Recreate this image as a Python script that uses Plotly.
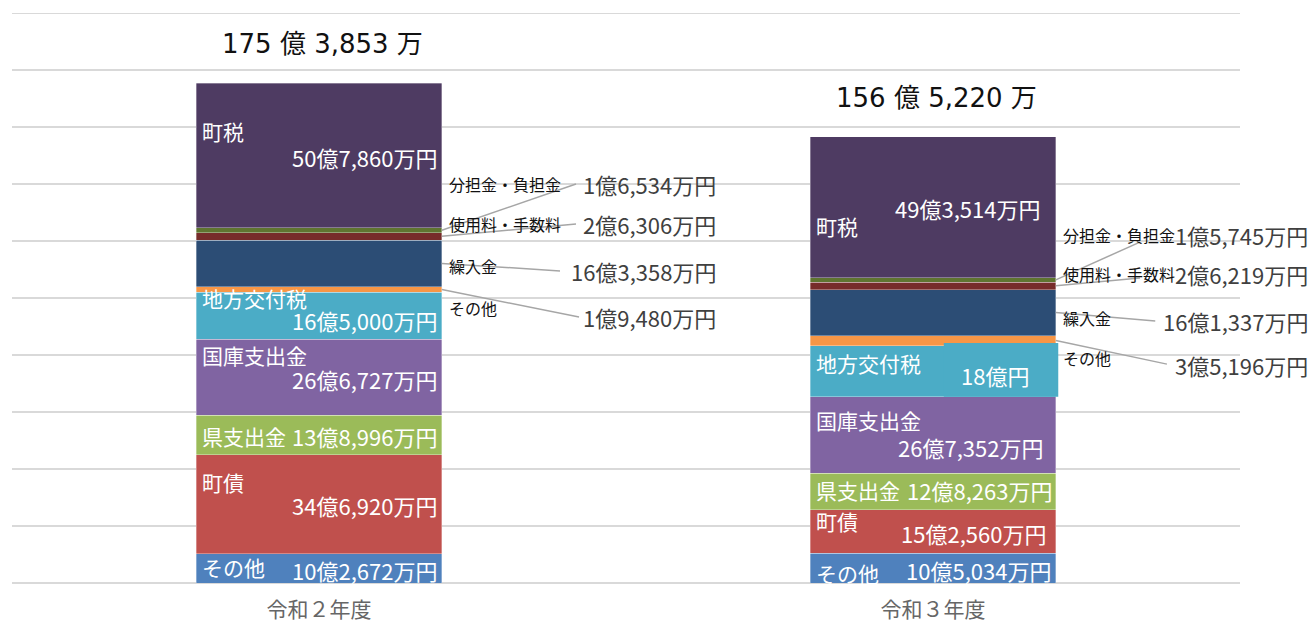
import plotly.graph_objects as go

# ---------------- data ----------------
years = [0, 1]
year_labels = ["令和２年度", "令和３年度"]

# segments, bottom to top
segment_names = ["その他", "町債", "県支出金", "国庫支出金", "地方交付税",
                 "その他", "繰入金", "使用料・手数料", "分担金・負担金", "町税"]
# values in 万円
values_r2 = [102672, 346920, 138996, 266727, 165000, 19480, 163358, 26306, 16534, 507860]
values_r3 = [105034, 152560, 128263, 267352, 180000, 35196, 161337, 26219, 15745, 493514]

colors = ["#4f81bd", "#c0504d", "#9bbb59", "#8064a2", "#4bacc6",
          "#f79646", "#2c4d75", "#772c2a", "#5f7530", "#4e3b62"]

inside_idx = [0, 1, 2, 3, 4, 9]
callout_idx = [8, 7, 6, 5]

# label layout (pixel shifts relative to segment centre: name, value; + = up)
inside_shift = {
    0: {0: (1, -2), 1: (22, -1), 2: (-1, -1), 3: (22, -2), 4: (18, -4), 9: (25, -1)},
    1: {0: (-5, -2), 1: (10, -2), 2: (1, 1), 3: (15, -12), 4: (8, -4), 9: (-19, -1)},
}
value_xshift = {0: {}, 1: {9: -11, 4: -22, 3: -8, 1: -5, 2: 1}}

# callout label layout (y in 億), order: 分担金, 使用料, 繰入金, その他
callout_name_y = {0: [140.0, 126.0, 111.2, 96.5], 1: [122.1, 108.4, 93.0, 78.9]}
callout_val_y = {0: [140.0, 126.0, 109.5, 93.3], 1: [122.1, 108.4, 91.9, 76.5]}
callout_val_x = {0: 0.650, 1: 0.614}
line_end_x = {0: [0.4186, 0.4186, 0.3925, 0.4235], 1: [0.337, 0.337, 0.362, 0.381]}
line_end_y = {0: [140.0, 126.0, 109.5, 93.3], 1: [119.6, 107.0, 91.9, 76.8]}

BAR_W = 0.4
X_RANGE = [-0.5, 1.5]
Y_MAX = 200
Y_STEP = 20


def fmt_val(v):
    oku, man = divmod(v, 10000)
    if man == 0:
        return f"{oku}億円"
    return f"{oku}億{man:,}万円"


def fmt_total(v):
    oku, man = divmod(v, 10000)
    return f"{oku} 億 {man:,} 万"


def to_paper(xd):
    return (xd - X_RANGE[0]) / (X_RANGE[1] - X_RANGE[0])


fig = go.Figure()
all_vals = [values_r2, values_r3]
for k, name in enumerate(segment_names):
    fig.add_trace(go.Bar(
        x=years, y=[all_vals[0][k] / 10000, all_vals[1][k] / 10000],
        width=BAR_W, marker=dict(color=colors[k], line=dict(width=0.6, color="rgba(255,255,255,0.55)")),
        name=name, showlegend=False, hoverinfo="skip",
    ))

JP = "Noto Sans CJK JP"
ann = []
shapes = [dict(type="line", xref="paper", yref="y", x0=0, x1=1, y0=Y_MAX, y1=Y_MAX,
               layer="below", line=dict(color="#d9d9d9", width=2))]
for i, vals in enumerate(all_vals):
    cum = []
    s = 0
    for v in vals:
        cum.append((s, s + v))
        s += v
    total = s
    left = years[i] - BAR_W / 2
    right = years[i] + BAR_W / 2
    # total label
    ann.append(dict(x=years[i], y=total / 10000, text=fmt_total(total), showarrow=False,
                    yshift=39, yanchor="middle", xanchor="center", xshift=3,
                    font=dict(family="DejaVu Sans, Noto Sans CJK JP", size=26, color="#111111")))
    # label box of 地方交付税 on R3 (teal background overlapping the orange strip)
    if i == 1:
        lo, hi = cum[4]
        shapes.append(dict(type="rect", xref="x", yref="y", layer="above",
                           x0=right - 0.1824, x1=right + 0.004, y0=lo / 10000, y1=hi / 10000 + 0.9,
                           fillcolor=colors[4], line=dict(width=0)))
    # inside labels
    for k in inside_idx:
        lo, hi = cum[k]
        mid = (lo + hi) / 2 / 10000
        ns, vs = inside_shift[i][k]
        ann.append(dict(x=left, y=mid, text=segment_names[k], showarrow=False,
                        xanchor="left", yanchor="middle", xshift=4, yshift=ns,
                        font=dict(family=JP, size=21, color="white")))
        ann.append(dict(x=right, y=mid, text=fmt_val(vals[k]), showarrow=False,
                        xanchor="right", yanchor="middle",
                        xshift=-3 + value_xshift[i].get(k, 0), yshift=vs,
                        font=dict(family=JP, size=22, color="white")))
    # callouts
    for j, k in enumerate(callout_idx):
        lo, hi = cum[k]
        mid = (lo + hi) / 2 / 10000
        shapes.append(dict(type="line", xref="x", yref="y",
                           x0=right, y0=mid, x1=years[i] + line_end_x[i][j], y1=line_end_y[i][j],
                           line=dict(color="#a6a6a6", width=1.5)))
        ann.append(dict(x=right, y=callout_name_y[i][j], text=segment_names[k], showarrow=False,
                        xanchor="left", yanchor="middle", xshift=5,
                        font=dict(family=JP, size=16, color="#111111")))
        ann.append(dict(xref="paper", yref="y", x=to_paper(years[i] + callout_val_x[i]),
                        y=callout_val_y[i][j], text=fmt_val(vals[k]),
                        showarrow=False, xanchor="right", yanchor="middle",
                        font=dict(family=JP, size=22, color="#404040")))

fig.update_layout(
    width=1313, height=625,
    margin=dict(l=12, r=73, t=13, b=42, autoexpand=False),
    barmode="stack", bargap=0.6,
    plot_bgcolor="white", paper_bgcolor="white",
    annotations=ann, shapes=shapes, showlegend=False,
)
fig.update_xaxes(range=X_RANGE, tickvals=years, ticktext=year_labels, automargin=False,
                 showgrid=False, zeroline=False, showline=False,
                 ticks="outside", ticklen=8, tickcolor="rgba(0,0,0,0)",
                 tickfont=dict(family=JP, size=21, color="#666666"))
fig.update_yaxes(range=[0, Y_MAX], dtick=Y_STEP, showticklabels=False, automargin=False,
                 showgrid=True, gridcolor="#d9d9d9", gridwidth=2,
                 zeroline=True, zerolinecolor="#d9d9d9", zerolinewidth=2)

fig.write_html("out.html", config={"displayModeBar": False},
               post_script="document.body.style.margin='0px';")
